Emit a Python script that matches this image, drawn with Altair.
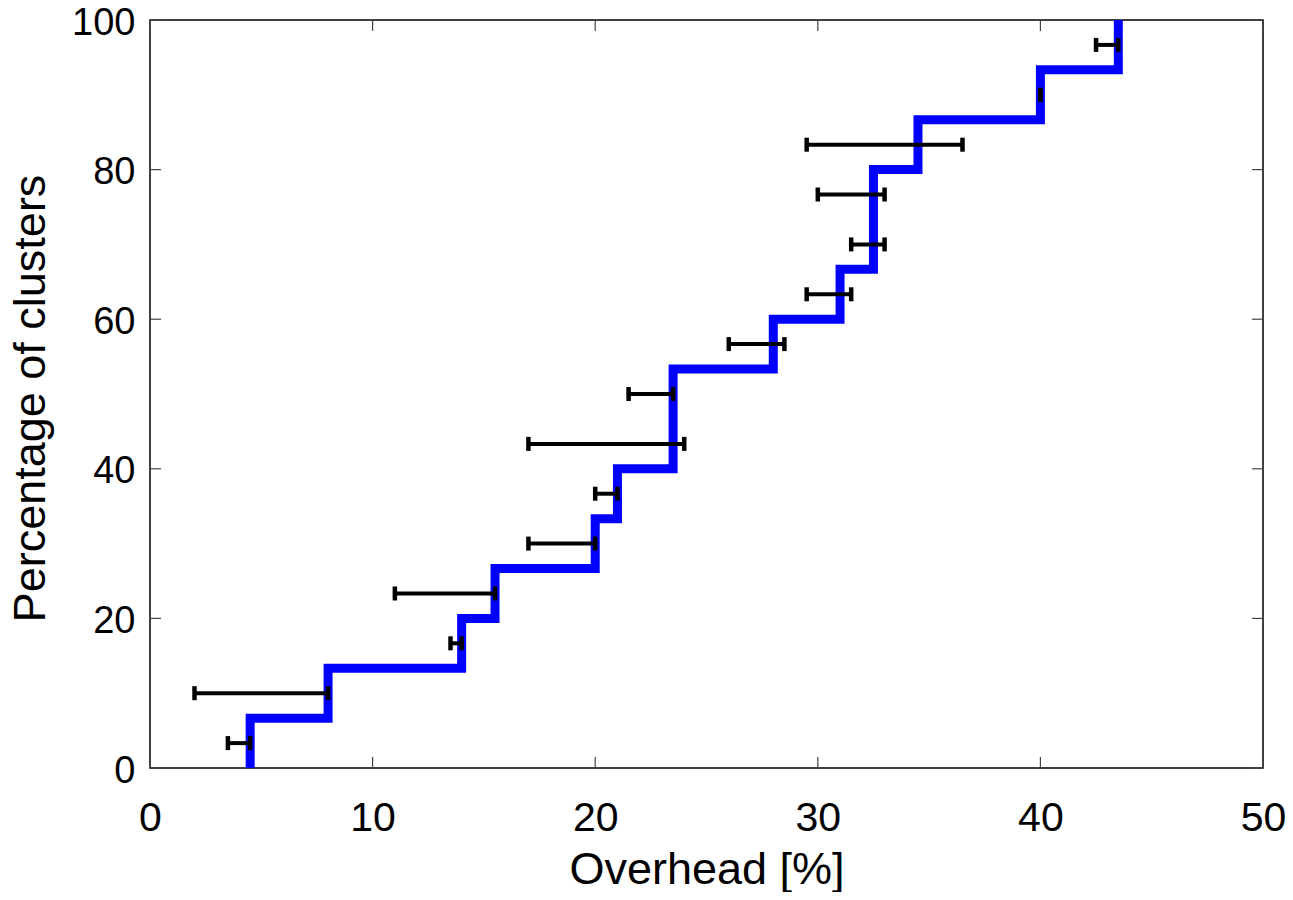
import altair as alt
import pandas as pd

# Sorted per-cluster overhead values (%) read from the CDF steps
overhead = [4.5, 8.0, 14.0, 15.5, 20.0, 21.0, 23.5, 23.5, 28.0, 31.0, 32.5, 32.5, 34.5, 40.0, 43.5]

# Error bars (y position in %, low and high overhead in %)
err_y = [3.33, 10.0, 16.67, 23.33, 30.0, 36.67, 43.33, 50.0, 56.67, 63.33, 70.0, 76.67, 83.33, 90.0, 96.67]
err_lo = [3.5, 2.0, 13.5, 11.0, 17.0, 20.0, 17.0, 21.5, 26.0, 29.5, 31.5, 30.0, 29.5, 40.0, 42.5]
err_hi = [4.5, 8.0, 14.0, 15.5, 20.0, 21.0, 24.0, 23.5, 28.5, 31.5, 33.0, 33.0, 36.5, 40.0, 43.5]

x_ticks = [0, 10, 20, 30, 40, 50]
y_ticks = [0, 20, 40, 60, 80, 100]

W, H = 1113, 748
FONT = "Liberation Sans"

n = len(overhead)
cdf_x = overhead + [overhead[-1]]
cdf_y = [100.0 * i / n for i in range(n + 1)]
cdf = pd.DataFrame({"x": cdf_x, "y": cdf_y, "order": list(range(n + 1))})
err = pd.DataFrame({"y": err_y, "lo": err_lo, "hi": err_hi})
xt = pd.DataFrame({"v": x_ticks})
yt = pd.DataFrame({"v": y_ticks})

xscale = alt.Scale(domain=[0, 50], nice=False, zero=False)
yscale = alt.Scale(domain=[0, 100], nice=False, zero=False)

xaxis = alt.Axis(values=x_ticks, ticks=False, domain=False, grid=False, labelFlush=False,
                 labelFont=FONT, labelFontSize=41, labelColor="black",
                 labelBaseline="alphabetic", labelPadding=62,
                 title="Overhead [%]", titleFont=FONT, titleFontSize=45, titleFontWeight="normal",
                 titleColor="black", titleY=115, titleBaseline="alphabetic")
yaxis = alt.Axis(values=y_ticks, ticks=False, domain=False, grid=False, labelFlush=False,
                 labelFont=FONT, labelFontSize=38, labelColor="black", labelPadding=15,
                 labelOffset=3,
                 title="Percentage of clusters", titleFont=FONT, titleFontSize=45,
                 titleFontWeight="normal", titleColor="black", titleX=-106, titleY=H / 2 + 4,
                 titleBaseline="alphabetic", titleAlign="center", titleAngle=270)

line = alt.Chart(cdf).mark_line(color="#0000FF", strokeWidth=9, interpolate="step-before",
                                strokeCap="butt", strokeJoin="miter").encode(
    x=alt.X("x:Q", scale=xscale, axis=xaxis),
    y=alt.Y("y:Q", scale=yscale, axis=yaxis),
    order="order:Q",
)

bars = alt.Chart(err).mark_rule(color="black", strokeWidth=4).encode(
    x=alt.X("lo:Q", scale=xscale), x2="hi:Q", y=alt.Y("y:Q", scale=yscale)
)
cap_lo = alt.Chart(err).mark_tick(color="black", opacity=1, thickness=4.5, size=14,
                                  orient="vertical").encode(
    x=alt.X("lo:Q", scale=xscale), y=alt.Y("y:Q", scale=yscale)
)
cap_hi = alt.Chart(err).mark_tick(color="black", opacity=1, thickness=4.5, size=14,
                                  orient="vertical").encode(
    x=alt.X("hi:Q", scale=xscale), y=alt.Y("y:Q", scale=yscale)
)

tick_col = "#444444"
tb = alt.Chart(xt).mark_rule(color=tick_col, strokeWidth=1.2).encode(
    x=alt.X("v:Q", scale=xscale), y=alt.value(H), y2=alt.value(H - 11))
tt = alt.Chart(xt).mark_rule(color=tick_col, strokeWidth=1.2).encode(
    x=alt.X("v:Q", scale=xscale), y=alt.value(0), y2=alt.value(11))
tl = alt.Chart(yt).mark_rule(color=tick_col, strokeWidth=1.2).encode(
    y=alt.Y("v:Q", scale=yscale), x=alt.value(0), x2=alt.value(11))
tr = alt.Chart(yt).mark_rule(color=tick_col, strokeWidth=1.2).encode(
    y=alt.Y("v:Q", scale=yscale), x=alt.value(W), x2=alt.value(W - 11))

chart = alt.layer(tb, tt, tl, tr, line, bars, cap_lo, cap_hi).properties(
    width=W, height=H,
    autosize=alt.AutoSizeParams(type="none"),
    padding={"left": 142, "top": 12, "right": 22, "bottom": 124},
    background="white",
).configure_view(stroke="black", strokeWidth=1.5)

chart.save("out.html", embed_options={"renderer": "svg", "actions": False})
